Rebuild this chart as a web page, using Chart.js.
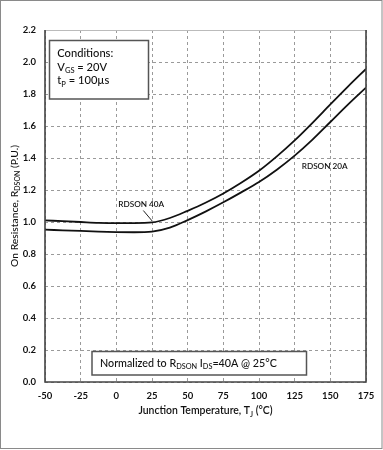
<!DOCTYPE html>
<html><head><meta charset="utf-8">
<script src="https://cdn.jsdelivr.net/npm/chart.js@4"></script>
<style>html,body{margin:0;padding:0;background:#fff;} canvas{display:block;}</style>
</head><body>
<canvas id="c" width="383" height="450"></canvas>
<script>
// ---- data ----
const temperatures = [-50,-37.5,-25,-12.5,0,12.5,25,37.5,50,62.5,75,87.5,100,112.5,125,137.5,150,162.5,175];
const rdson40A = [1.010,1.005,1.000,0.995,0.993,0.993,0.997,1.025,1.070,1.120,1.178,1.245,1.320,1.410,1.510,1.620,1.735,1.848,1.957];
const rdson20A = [0.952,0.948,0.944,0.940,0.937,0.936,0.940,0.965,1.012,1.065,1.123,1.185,1.250,1.327,1.415,1.515,1.625,1.735,1.840];
const xTickValues = [-50,-25,0,25,50,75,100,125,150,175];
const yTickValues = [0,0.2,0.4,0.6,0.8,1.0,1.2,1.4,1.6,1.8,2.0,2.2];
const seriesLabels = ['RDSON 40A','RDSON 20A'];

const FONT = 'Lato';
const TXT = '#111';

function richWidth(ctx, parts, size, weight) {
  let w = 0;
  for (const p of parts) {
    ctx.font = weight + ' ' + (p.sub ? size*0.68 : size) + 'px ' + FONT;
    w += ctx.measureText(p.t).width;
  }
  return w;
}
function fitSize(ctx, parts, weight, targetWidth) {
  return 10 * targetWidth / richWidth(ctx, parts, 10, weight);
}
function drawRich(ctx, parts, x, y, size, weight, align) {
  const total = richWidth(ctx, parts, size, weight);
  let cx = align === 'center' ? x - total/2 : x;
  ctx.textBaseline = 'alphabetic';
  ctx.textAlign = 'left';
  ctx.fillStyle = TXT;
  for (const p of parts) {
    const s = p.sub ? size*0.68 : size;
    ctx.font = weight + ' ' + s + 'px ' + FONT;
    ctx.fillText(p.t, cx, y + (p.sub ? size*0.22 : 0));
    cx += ctx.measureText(p.t).width;
  }
}

const decor = {
  id: 'decor',
  afterDraw(chart) {
    const ctx = chart.ctx;
    const a = chart.chartArea;
    ctx.save();
    // plot frame
    ctx.lineWidth = 1;
    ctx.strokeStyle = '#bbb';
    ctx.beginPath(); ctx.moveTo(a.left, a.top + 0.5); ctx.lineTo(a.right, a.top + 0.5); ctx.stroke();
    ctx.lineWidth = 1.6;
    ctx.strokeStyle = '#444';
    ctx.beginPath();
    ctx.moveTo(a.left, a.top); ctx.lineTo(a.left, a.bottom); ctx.lineTo(a.right, a.bottom); ctx.lineTo(a.right, a.top);
    ctx.stroke();

    // Conditions box
    ctx.fillStyle = '#fff';
    ctx.fillRect(49.5, 40.5, 99, 58.5);
    ctx.lineWidth = 1.5; ctx.strokeStyle = '#555';
    ctx.strokeRect(49.5, 40.5, 99, 58.5);
    const condParts = [{t:'Conditions:'}];
    const cs = fitSize(ctx, condParts, '500', 56);
    drawRich(ctx, condParts, 57.3, 56.7, cs, '500', 'left');
    drawRich(ctx, [{t:'V'},{t:'GS',sub:true},{t:' = 20V'}], 57.3, 70.7, cs, '500', 'left');
    drawRich(ctx, [{t:'t'},{t:'P',sub:true},{t:' = 100\u00b5s'}], 57.3, 84.3, cs, '500', 'left');

    // Normalized box
    ctx.fillStyle = '#fff';
    ctx.fillRect(92, 351.5, 214.5, 23.5);
    ctx.lineWidth = 1.5; ctx.strokeStyle = '#555';
    ctx.strokeRect(92, 351.5, 214.5, 23.5);
    const normParts = [{t:'Normalized to R'},{t:'DSON',sub:true},{t:' I'},{t:'DS',sub:true},{t:'=40A @ 25\u00b0C'}];
    drawRich(ctx, normParts, 100, 366.7, fitSize(ctx, normParts, '500', 177), '500', 'left');

    // series labels
    const l1 = [{t:seriesLabels[0]}], l2 = [{t:seriesLabels[1]}];
    const ls = fitSize(ctx, l1, '600', 46);
    drawRich(ctx, l1, 118.3, 206.8, ls, '600', 'left');
    drawRich(ctx, l2, 301.7, 169.3, ls, '600', 'left');
    // pointer for 40A
    ctx.lineWidth = 1; ctx.strokeStyle = '#222';
    ctx.beginPath(); ctx.moveTo(143.3, 210.5); ctx.lineTo(152.2, 221); ctx.stroke();

    // axis titles
    const xt = [{t:'Junction Temperature, T'},{t:'J',sub:true},{t:' (\u00b0C)'}];
    drawRich(ctx, xt, 205.5, 414.3, fitSize(ctx, xt, '600', 134.4), '600', 'center');
    const yt = [{t:'On Resistance, R'},{t:'DSON',sub:true},{t:' (P.U.)'}];
    ctx.save();
    ctx.translate(17.5, 206);
    ctx.rotate(-Math.PI/2);
    drawRich(ctx, yt, 0, 0, fitSize(ctx, yt, '500', 122), '500', 'center');
    ctx.restore();

    // outer border
    ctx.lineWidth = 1; ctx.strokeStyle = '#8a8a8a';
    ctx.strokeRect(0.5, 0.5, 381.5, 448);
    ctx.restore();
  }
};

const toPoints = (vals) => temperatures.map((t, i) => ({x: t, y: vals[i]}));

new Chart(document.getElementById('c'), {
  type: 'line',
  data: {
    datasets: [
      {label: seriesLabels[0], data: toPoints(rdson40A), borderColor: '#111', borderWidth: 1.8, pointRadius: 0, cubicInterpolationMode: 'monotone', fill: false},
      {label: seriesLabels[1], data: toPoints(rdson20A), borderColor: '#111', borderWidth: 1.8, pointRadius: 0, cubicInterpolationMode: 'monotone', fill: false}
    ]
  },
  options: {
    responsive: false,
    animation: false,
    devicePixelRatio: 1,
    layout: {padding: {left: 0, right: 17, top: 30, bottom: 0}},
    plugins: {legend: {display: false}, tooltip: {enabled: false}},
    scales: {
      x: {
        type: 'linear', min: -50, max: 175,
        afterBuildTicks: s => { s.ticks = xTickValues.map(v => ({value: v})); },
        afterFit: s => { s.height = 68; },
        ticks: {font: {family: FONT, size: 9.5, weight: 'bold'}, color: TXT, padding: 8, maxRotation: 0, callback: v => String(v)},
        grid: {color: '#9a9a9a', lineWidth: 1, drawTicks: false},
        border: {display: false, dash: [3, 3]}
      },
      y: {
        type: 'linear', min: 0, max: 2.2,
        afterBuildTicks: s => { s.ticks = yTickValues.map(v => ({value: v})); },
        afterFit: s => { s.width = 45; },
        ticks: {font: {family: FONT, size: 9.5, weight: 'bold'}, color: TXT, padding: 9, callback: v => Number(v).toFixed(1)},
        grid: {color: '#9a9a9a', lineWidth: 1, drawTicks: false},
        border: {display: false, dash: [3, 3]}
      }
    }
  },
  plugins: [decor]
});
</script>
</body></html>
